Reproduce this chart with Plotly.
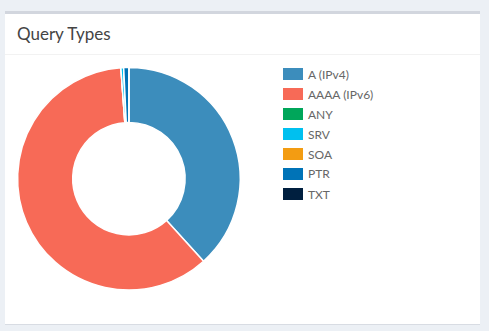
import plotly.graph_objects as go

W, H = 489, 331

title = "Query Types"
labels = ["A (IPv4)", "AAAA (IPv6)", "ANY", "SRV", "SOA", "PTR", "TXT"]
values = [38.3, 60.55, 0, 0.4, 0, 0.75, 0]
colors = ["#3c8dbc", "#f76a57", "#00a65a", "#00c0ef", "#f39c12", "#0073b7", "#001f3f"]


def px(x):
    return x / W


def py(y):
    return 1 - y / H


fig = go.Figure()

# donut
cx, cy, r = 128.9, 178.7, 111.3
fig.add_trace(go.Pie(
    labels=labels,
    values=values,
    hole=0.505,
    sort=False,
    direction="clockwise",
    rotation=0,
    textinfo="none",
    hoverinfo="label+value",
    marker=dict(colors=colors, line=dict(color="#ffffff", width=1.5)),
    domain=dict(x=[px(cx - r), px(cx + r)], y=[py(cy + r), py(cy - r)]),
    showlegend=False,
))

shapes = []
# card shadow
shapes.append(dict(type="rect", xref="paper", yref="paper",
                   x0=px(5), x1=px(480), y0=py(325), y1=py(11),
                   fillcolor="#d8dce3", line=dict(width=0), layer="below"))
# card body
shapes.append(dict(type="rect", xref="paper", yref="paper",
                   x0=px(5), x1=px(480), y0=py(324), y1=py(11),
                   fillcolor="#ffffff", line=dict(width=0), layer="below"))
# top border
shapes.append(dict(type="rect", xref="paper", yref="paper",
                   x0=px(5), x1=px(480), y0=py(14), y1=py(11),
                   fillcolor="#d2d6de", line=dict(width=0), layer="below"))
# header separator
shapes.append(dict(type="rect", xref="paper", yref="paper",
                   x0=px(5), x1=px(480), y0=py(55), y1=py(54),
                   fillcolor="#f2f2f2", line=dict(width=0), layer="below"))

annotations = [dict(text=title, xref="paper", yref="paper", x=px(15), y=py(33.5),
                    xanchor="left", yanchor="middle", showarrow=False,
                    font=dict(family="Lato, Open Sans, sans-serif", size=17, color="#444444"))]

# legend
for i, (lab, col) in enumerate(zip(labels, colors)):
    yc = 74 + 20 * i
    shapes.append(dict(type="rect", xref="paper", yref="paper",
                       x0=px(283), x1=px(303), y0=py(yc + 6), y1=py(yc - 6),
                       fillcolor=col, line=dict(width=0)))
    annotations.append(dict(text=lab, xref="paper", yref="paper", x=px(306), y=py(yc),
                            xanchor="left", yanchor="middle", showarrow=False,
                            font=dict(family="Lato, Open Sans, sans-serif", size=12, color="#666666")))

fig.update_layout(
    width=W, height=H,
    margin=dict(l=0, r=0, t=0, b=0),
    paper_bgcolor="#ecf0f5",
    plot_bgcolor="#ecf0f5",
    shapes=shapes,
    annotations=annotations,
    showlegend=False,
)

fig.write_html("out.html", config={"displayModeBar": False})
